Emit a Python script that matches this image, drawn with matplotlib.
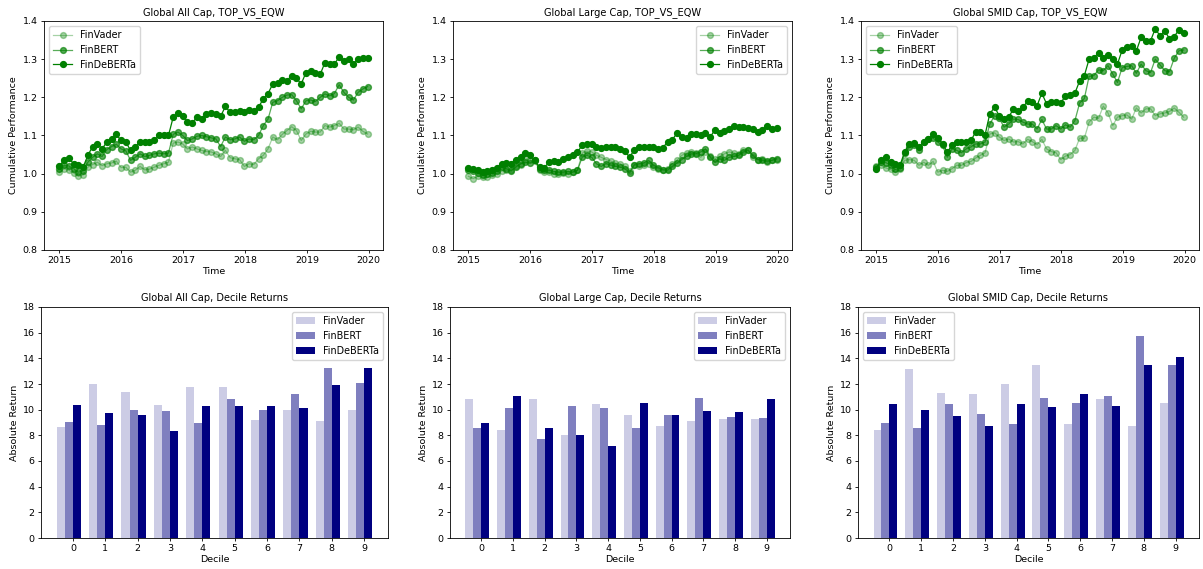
import matplotlib
matplotlib.use("Agg")
import matplotlib.pyplot as plt
import numpy as np
import pandas as pd

# ---- data -------------------------------------------------------------
models = ["FinVader", "FinBERT", "FinDeBERTa"]
dates = pd.date_range("2015-01-01", periods=66, freq="28D")

vader_all = [1.004, 1.013, 1.009, 1.002, 0.993, 0.997, 1.017, 1.024, 1.030, 1.021,
             1.026, 1.028, 1.033, 1.016, 1.017, 1.004, 1.009, 1.019, 1.010, 1.012,
             1.017, 1.022, 1.026, 1.030, 1.080, 1.083, 1.078, 1.065, 1.070, 1.065,
             1.061, 1.058, 1.057, 1.052, 1.045, 1.061, 1.042, 1.039, 1.037, 1.019,
             1.026, 1.024, 1.039, 1.048, 1.065, 1.096, 1.089, 1.103, 1.113, 1.123,
             1.113, 1.087, 1.104, 1.111, 1.109, 1.109, 1.126, 1.122, 1.126, 1.132,
             1.117, 1.117, 1.115, 1.122, 1.111, 1.104]
bert_all = [1.013, 1.022, 1.020, 1.013, 1.004, 1.007, 1.030, 1.043, 1.052, 1.045,
            1.063, 1.071, 1.077, 1.065, 1.060, 1.035, 1.043, 1.052, 1.045, 1.048,
            1.052, 1.054, 1.052, 1.054, 1.103, 1.109, 1.100, 1.087, 1.091, 1.098,
            1.100, 1.097, 1.094, 1.091, 1.071, 1.096, 1.089, 1.091, 1.096, 1.085,
            1.091, 1.089, 1.100, 1.126, 1.143, 1.187, 1.191, 1.200, 1.206, 1.207,
            1.191, 1.170, 1.191, 1.193, 1.189, 1.200, 1.209, 1.204, 1.210, 1.233,
            1.213, 1.200, 1.193, 1.213, 1.222, 1.228]
deberta_all = [1.019, 1.037, 1.040, 1.026, 1.024, 1.017, 1.048, 1.071, 1.077, 1.065,
               1.083, 1.091, 1.103, 1.087, 1.083, 1.061, 1.070, 1.084, 1.084, 1.084,
               1.087, 1.100, 1.100, 1.100, 1.148, 1.158, 1.152, 1.135, 1.133, 1.148,
               1.143, 1.157, 1.160, 1.157, 1.150, 1.176, 1.161, 1.161, 1.163, 1.161,
               1.167, 1.165, 1.174, 1.196, 1.210, 1.235, 1.237, 1.245, 1.244, 1.257,
               1.250, 1.235, 1.265, 1.268, 1.265, 1.260, 1.291, 1.287, 1.287, 1.306,
               1.294, 1.300, 1.287, 1.300, 1.304, 1.303]

vader_large = [0.993, 0.987, 0.993, 0.991, 0.990, 0.996, 1.000, 1.007, 1.009, 1.009,
               1.019, 1.024, 1.035, 1.037, 1.033, 1.009, 1.004, 1.004, 1.000, 0.998,
               1.002, 1.000, 1.004, 1.009, 1.054, 1.059, 1.057, 1.048, 1.043, 1.037,
               1.033, 1.028, 1.026, 1.019, 1.007, 1.022, 1.019, 1.022, 1.026, 1.017,
               1.013, 1.010, 1.013, 1.026, 1.035, 1.048, 1.054, 1.057, 1.054, 1.043,
               1.057, 1.045, 1.039, 1.045, 1.052, 1.057, 1.054, 1.052, 1.061, 1.063,
               1.043, 1.037, 1.039, 1.030, 1.035, 1.037]
bert_large = [1.009, 1.006, 1.002, 0.996, 0.998, 1.002, 1.007, 1.017, 1.013, 1.007,
              1.017, 1.026, 1.030, 1.028, 1.035, 1.013, 1.009, 1.009, 1.006, 1.004,
              1.004, 1.006, 1.004, 1.009, 1.043, 1.048, 1.043, 1.026, 1.019, 1.026,
              1.022, 1.019, 1.017, 1.013, 1.002, 1.024, 1.026, 1.028, 1.035, 1.022,
              1.016, 1.010, 1.009, 1.019, 1.028, 1.037, 1.045, 1.052, 1.052, 1.057,
              1.065, 1.043, 1.030, 1.039, 1.035, 1.043, 1.045, 1.048, 1.057, 1.061,
              1.048, 1.037, 1.035, 1.033, 1.035, 1.039]
deberta_large = [1.016, 1.013, 1.010, 1.004, 1.007, 1.010, 1.016, 1.026, 1.028, 1.026,
                 1.037, 1.043, 1.054, 1.048, 1.035, 1.017, 1.016, 1.030, 1.033, 1.030,
                 1.039, 1.043, 1.048, 1.057, 1.074, 1.078, 1.078, 1.071, 1.067, 1.070,
                 1.070, 1.070, 1.065, 1.059, 1.043, 1.063, 1.070, 1.071, 1.071, 1.070,
                 1.065, 1.068, 1.083, 1.089, 1.106, 1.096, 1.094, 1.103, 1.104, 1.100,
                 1.106, 1.096, 1.115, 1.106, 1.113, 1.117, 1.125, 1.123, 1.122, 1.120,
                 1.117, 1.109, 1.115, 1.126, 1.117, 1.120]

vader_smid = [1.020, 1.022, 1.015, 1.011, 1.004, 1.011, 1.035, 1.037, 1.035, 1.022,
              1.030, 1.022, 1.032, 1.004, 1.009, 1.006, 1.013, 1.022, 1.022, 1.029,
              1.032, 1.041, 1.048, 1.055, 1.104, 1.107, 1.096, 1.087, 1.091, 1.083,
              1.084, 1.078, 1.090, 1.084, 1.076, 1.090, 1.065, 1.058, 1.055, 1.037,
              1.046, 1.050, 1.061, 1.093, 1.093, 1.135, 1.148, 1.145, 1.177, 1.159,
              1.126, 1.148, 1.152, 1.154, 1.143, 1.172, 1.159, 1.170, 1.170, 1.152,
              1.157, 1.159, 1.163, 1.172, 1.161, 1.148]
bert_smid = [1.017, 1.030, 1.029, 1.022, 1.011, 1.015, 1.055, 1.070, 1.074, 1.061,
             1.083, 1.091, 1.093, 1.083, 1.074, 1.043, 1.065, 1.061, 1.055, 1.065,
             1.070, 1.078, 1.078, 1.083, 1.130, 1.152, 1.145, 1.122, 1.130, 1.143,
             1.142, 1.135, 1.130, 1.130, 1.117, 1.142, 1.117, 1.117, 1.126, 1.117,
             1.128, 1.122, 1.139, 1.185, 1.197, 1.255, 1.257, 1.272, 1.270, 1.283,
             1.261, 1.239, 1.278, 1.281, 1.283, 1.263, 1.287, 1.270, 1.265, 1.300,
             1.285, 1.270, 1.267, 1.302, 1.322, 1.324]
deberta_smid = [1.011, 1.037, 1.043, 1.030, 1.026, 1.022, 1.058, 1.078, 1.080, 1.070,
                1.084, 1.091, 1.104, 1.093, 1.078, 1.057, 1.074, 1.083, 1.083, 1.084,
                1.087, 1.109, 1.110, 1.102, 1.157, 1.174, 1.152, 1.143, 1.148, 1.170,
                1.165, 1.174, 1.190, 1.189, 1.178, 1.211, 1.183, 1.187, 1.189, 1.185,
                1.204, 1.206, 1.211, 1.243, 1.257, 1.300, 1.304, 1.316, 1.304, 1.310,
                1.300, 1.287, 1.324, 1.333, 1.335, 1.322, 1.357, 1.348, 1.348, 1.380,
                1.361, 1.374, 1.354, 1.359, 1.377, 1.368]

deciles = list(range(10))
dec_vader_all = [8.65, 12.0, 11.4, 10.4, 11.75, 11.75, 9.2, 9.95, 9.15, 9.95]
dec_bert_all = [9.05, 8.8, 10.0, 9.9, 9.0, 10.8, 10.0, 11.25, 13.25, 12.1]
dec_deberta_all = [10.4, 9.75, 9.6, 8.3, 10.3, 10.25, 10.3, 10.1, 11.9, 13.25]

dec_vader_large = [10.85, 8.45, 10.85, 8.05, 10.45, 9.55, 8.7, 9.15, 9.3, 9.25]
dec_bert_large = [8.6, 10.15, 7.7, 10.25, 10.15, 8.6, 9.6, 10.9, 9.4, 9.35]
dec_deberta_large = [9.0, 11.1, 8.6, 8.05, 7.2, 10.55, 9.55, 9.9, 9.8, 10.8]

dec_vader_smid = [8.4, 13.2, 11.3, 11.2, 12.0, 13.45, 8.85, 10.85, 8.7, 10.55]
dec_bert_smid = [9.0, 8.6, 10.45, 9.7, 8.9, 10.9, 10.55, 11.1, 15.75, 13.45]
dec_deberta_smid = [10.45, 10.0, 9.5, 8.7, 10.45, 10.2, 11.2, 10.3, 13.5, 14.1]

universes = ["Global All Cap", "Global Large Cap", "Global SMID Cap"]
perf = [
    (vader_all, bert_all, deberta_all),
    (vader_large, bert_large, deberta_large),
    (vader_smid, bert_smid, deberta_smid),
]
decile_ret = [
    (dec_vader_all, dec_bert_all, dec_deberta_all),
    (dec_vader_large, dec_bert_large, dec_deberta_large),
    (dec_vader_smid, dec_bert_smid, dec_deberta_smid),
]

# ---- style ------------------------------------------------------------
W, H = 1203, 569
TITLE_FS = 7.1
LABEL_FS = 6.8
TICK_FS = 6.8
LEGEND_FS = 6.9

line_alphas = [0.35, 0.65, 1.0]
bar_alphas = [0.2, 0.5, 1.0]

top_boxes = [(44, 339), (453, 339), (861, 338)]
bot_boxes = [(41, 347), (450, 340), (858, 341)]
top_y = (21, 250)
bot_y = (307, 538)
top_legend = ["upper left", "upper right", "upper left"]
bot_legend = ["upper right", "upper right", "upper left"]


def add_ax(fig, left, width, ytop, ybot):
    return fig.add_axes([left / W, 1 - ybot / H, width / W, (ybot - ytop) / H])


fig = plt.figure(figsize=(W / 100, H / 100), dpi=100)

for k, name in enumerate(universes):
    # cumulative performance lines
    ax = add_ax(fig, top_boxes[k][0], top_boxes[k][1], *top_y)
    for m, series, a in zip(models, perf[k], line_alphas):
        ax.plot(dates, series, color="green", alpha=a, marker="o",
                markersize=4.2, linewidth=0.9, label=m)
    ax.set_ylim(0.8, 1.4)
    ax.set_yticks(np.arange(0.8, 1.41, 0.1))
    ax.set_title(f"{name}, TOP_VS_EQW", fontsize=TITLE_FS, pad=4)
    ax.set_xlabel("Time", fontsize=LABEL_FS, labelpad=1)
    ax.set_ylabel("Cumulative Performance", fontsize=LABEL_FS, labelpad=3)
    ax.tick_params(labelsize=TICK_FS, length=2.5, width=0.6, pad=2)
    ax.legend(loc=top_legend[k], fontsize=LEGEND_FS, handlelength=2.0,
              borderpad=0.45, labelspacing=0.5, framealpha=0.8)
    for s in ax.spines.values():
        s.set_linewidth(0.6)

    # decile returns bars
    bx = add_ax(fig, bot_boxes[k][0], bot_boxes[k][1], *bot_y)
    x = np.arange(len(deciles))
    w = 0.25
    offsets = [-1.5 * w, -0.5 * w, 0.5 * w]
    for m, vals, a, off in zip(models, decile_ret[k], bar_alphas, offsets):
        bx.bar(x + off, vals, width=w, color="navy", alpha=a, label=m)
    bx.set_xticks(x)
    bx.set_xticklabels([str(d) for d in deciles])
    bx.set_ylim(0, 18)
    bx.set_yticks(range(0, 19, 2))
    bx.set_title(f"{name}, Decile Returns", fontsize=TITLE_FS, pad=4)
    bx.set_xlabel("Decile", fontsize=LABEL_FS, labelpad=1)
    bx.set_ylabel("Absolute Return", fontsize=LABEL_FS, labelpad=3)
    bx.tick_params(labelsize=TICK_FS, length=2.5, width=0.6, pad=2)
    bx.legend(loc=bot_legend[k], fontsize=LEGEND_FS, handlelength=2.0,
              borderpad=0.45, labelspacing=0.5, framealpha=0.8)
    for s in bx.spines.values():
        s.set_linewidth(0.6)

fig.savefig("out.png", dpi=100)
